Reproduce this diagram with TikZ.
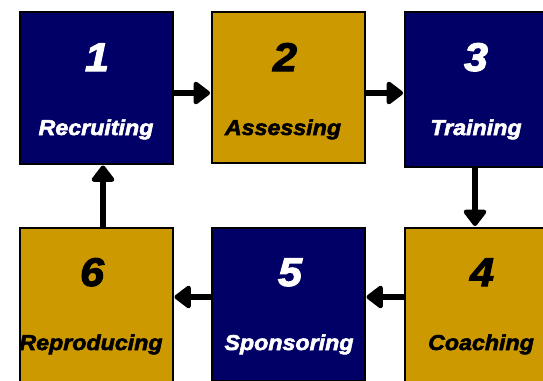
\documentclass[tikz,border=0pt]{standalone}
\usepackage{fontspec}
\setmainfont{Liberation Sans}
\usetikzlibrary{arrows.meta}
\definecolor{navy}{HTML}{000066}
\definecolor{gold}{HTML}{CC9900}
\newfontfamily\boxfont{Liberation Sans}[BoldItalicFeatures={FakeStretch=1.08,FakeBold=2.6}]
\begin{document}
\begin{tikzpicture}[x=1pt,y=-1pt,
  box/.style={draw=black,line width=1.5pt,anchor=north west,inner sep=0pt},
  navybox/.style={box,fill=navy},
  goldbox/.style={box,fill=gold},
  num/.style={font=\boxfont\bfseries\itshape\fontsize{40}{40}\selectfont,anchor=base,inner sep=0pt},
  lbl/.style={font=\boxfont\bfseries\itshape\fontsize{21.5}{21.5}\selectfont,anchor=base,inner sep=0pt},
  flow/.style={line width=6pt,-{Triangle[length=18pt 0 0,width=26pt 0 0,round]},shorten >=1pt}]
\useasboundingbox (0,0) rectangle (543,380);
\clip (0,0) rectangle (543,380);
\node[navybox,minimum width=153pt,minimum height=152pt] (b1) at (19,11) {};
\node[goldbox,minimum width=153pt,minimum height=151pt] (b2) at (211,11) {};
\node[navybox,minimum width=153pt,minimum height=155pt] (b3) at (404,11) {};
\node[goldbox,minimum width=153pt,minimum height=156pt] (b4) at (404,227) {};
\node[navybox,minimum width=153pt,minimum height=153pt] (b5) at (211,227) {};
\node[goldbox,minimum width=153pt,minimum height=156pt] (b6) at (19,227) {};
\node[num,text=white] (n1) at (97,71) {1};
\node[num,text=black] (n2) at (285,71) {2};
\node[num,text=white] (n3) at (476,71) {3};
\node[num,text=black] (n4) at (482,286) {4};
\node[num,text=white] (n5) at (290,286) {5};
\node[num,text=black] (n6) at (92,286) {6};
\node[lbl,text=white] (l1) at (96,135) {Recruiting};
\node[lbl,text=black] (l2) at (283,135) {Assessing};
\node[lbl,text=white] (l3) at (476,135) {Training};
\node[lbl,text=black] (l4) at (481,350) {Coaching};
\node[lbl,text=white] (l5) at (289,350) {Sponsoring};
\node[lbl,text=black] (l6) at (91,350) {Reproducing};
\draw[flow] (b1.east |- 0,93) -- (b2.west |- 0,93);
\draw[flow] (b2.east |- 0,93) -- (b3.west |- 0,93);
\draw[flow] (b3.south -| 475,0) -- (b4.north -| 475,0);
\draw[flow] (b4.west |- 0,297) -- (b5.east |- 0,297);
\draw[flow] (b5.west |- 0,297) -- (b6.east |- 0,297);
\draw[flow] (b6.north -| 103,0) -- (b1.south -| 103,0);
\end{tikzpicture}
\end{document}
